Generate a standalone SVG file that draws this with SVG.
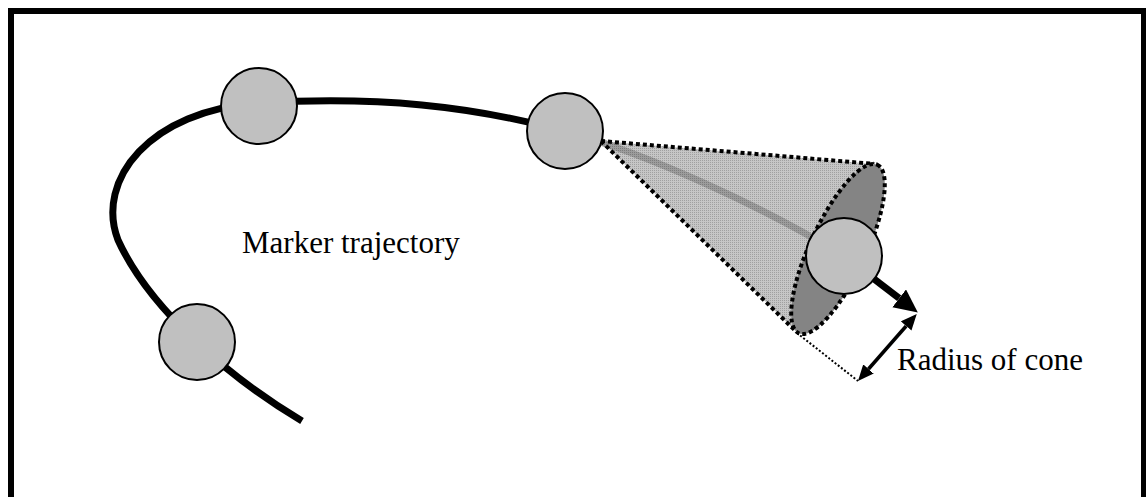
<svg xmlns="http://www.w3.org/2000/svg" width="1146" height="497" viewBox="0 0 1146 497">
  <defs>
    <style>
      .marker-node { fill: #c0c0c0; stroke: #000; stroke-width: 2; }
      .trajectory { fill: none; stroke: #000; stroke-width: 7; }
      .dotted { fill: none; stroke: #000; stroke-width: 4; stroke-dasharray: 4 3; }
      .thin-dotted { fill: none; stroke: #000; stroke-width: 2; stroke-dasharray: 2 2; }
      .label { font-family: "Liberation Serif", "Times New Roman", serif; font-size: 31px; fill: #000; }
    </style>
    <!-- fine stipple used for the cone surface -->
    <pattern id="stipple" width="2" height="2" patternUnits="userSpaceOnUse">
      <rect width="2" height="2" fill="#c6c6c6"/>
      <rect width="1" height="1" fill="#a0a0a0"/>
    </pattern>
    <pattern id="stipple-dark" width="2" height="2" patternUnits="userSpaceOnUse">
      <rect width="2" height="2" fill="#9c9c9c"/>
      <rect width="1" height="1" fill="#7c7c7c"/>
    </pattern>
    <marker id="head" markerUnits="userSpaceOnUse" markerWidth="16" markerHeight="14" refX="0" refY="7" orient="auto-start-reverse">
      <path d="M0,0 L16,7 L0,14 Z" fill="#000"/>
    </marker>
    <marker id="head-big" markerUnits="userSpaceOnUse" markerWidth="24" markerHeight="23" refX="0" refY="11.2" orient="auto">
      <path d="M0,0 L23.5,11.2 L0,22.4 Z" fill="#000"/>
    </marker>
  </defs>

  <!-- frame -->
  <rect x="11" y="11" width="1133" height="500" fill="#fff" stroke="#000" stroke-width="6"/>

  <!-- search cone -->
  <g id="cone">
    <path d="M601,141 L874.3,163.9 L796.2,331.6 Z" fill="url(#stipple)"/>
    <path d="M565,131 C650,155 760,205 844,256" fill="none" stroke="url(#stipple-dark)" stroke-width="7"/>
    <path class="dotted" d="M601,141 L874.3,163.9"/>
    <path class="dotted" d="M601,141 L796.2,331.6"/>
    <ellipse cx="838" cy="249" rx="93" ry="28" transform="rotate(-65 838 249)" fill="#848484" class="dotted" style="fill:#848484"/>
  </g>

  <g id="connectors">
    <!-- marker trajectory -->
    <path class="trajectory" d="M302,421 C230,378 150,310 118,240 C95,180 150,110 259,103 C380,96 470,106 565,131"/>
    <!-- heading of the last marker -->
    <path d="M844,256 L899.2,298.3" fill="none" stroke="#000" stroke-width="7" marker-end="url(#head-big)"/>
    <!-- cone radius dimension -->
    <path class="thin-dotted" d="M797,333 L858,381"/>
    <path d="M868.5,369 L906.2,326" fill="none" stroke="#000" stroke-width="3.5" marker-start="url(#head)" marker-end="url(#head)"/>
  </g>

  <g id="marker-1"><circle class="marker-node" cx="259" cy="106" r="38"/></g>
  <g id="marker-2"><circle class="marker-node" cx="565" cy="131" r="38"/></g>
  <g id="marker-3"><circle class="marker-node" cx="197" cy="342" r="38"/></g>
  <g id="marker-4"><circle class="marker-node" cx="844" cy="256" r="38"/></g>

  <g id="label-trajectory"><text class="label" x="242" y="253">Marker trajectory</text></g>
  <g id="label-radius"><text class="label" x="897" y="370">Radius of cone</text></g>
</svg>
